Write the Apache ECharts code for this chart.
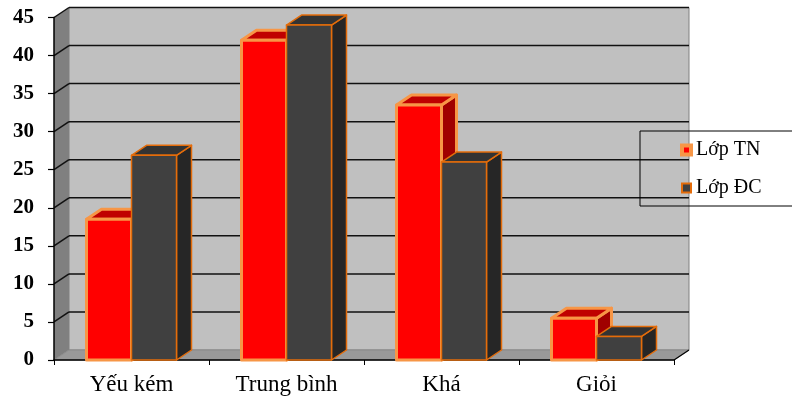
<!DOCTYPE html>
<html><head><meta charset="utf-8">
<script src="https://cdn.jsdelivr.net/npm/echarts@6/dist/echarts.min.js"></script>
<style>html,body{margin:0;padding:0;background:#fff}#c{width:792px;height:398px}</style>
</head><body><div id="c"></div>
<script>
// ---- data ----
const categories = ['Yếu kém', 'Trung bình', 'Khá', 'Giỏi'];
const seriesNames = ['Lớp TN', 'Lớp ĐC'];
const lopTN = [18.5, 42.0, 33.5, 5.5];
const lopDC = [26.9, 44.0, 26.0, 3.1];
const yTicks = [0, 5, 10, 15, 20, 25, 30, 35, 40, 45];

// ---- style constants ----
const DX = 15, DY = -10;          // 3D depth offset
const BAR_RATIO = 45 / 155;       // bar width relative to category band
const FONT = 'Liberation Serif, Times New Roman, serif';

const chart = echarts.init(document.getElementById('c'), null, {renderer: 'canvas'});

function wallRender(params, api) {
  const cs = params.coordSys;
  const gx = cs.x, gy = cs.y, gw = cs.width, gh = cs.height;
  const bottom = gy + gh;
  const ch = [];
  ch.push({type: 'rect', shape: {x: gx + DX, y: gy + DY, width: gw, height: gh},
    style: {fill: '#C0C0C0', stroke: '#808080', lineWidth: 1}});
  ch.push({type: 'polygon', shape: {points: [[gx, gy], [gx + DX, gy + DY], [gx + DX, bottom + DY], [gx, bottom]]},
    style: {fill: '#808080'}});
  ch.push({type: 'polygon', shape: {points: [[gx, bottom], [gx + DX, bottom + DY], [gx + gw + DX, bottom + DY], [gx + gw, bottom]]},
    style: {fill: '#999999', stroke: '#8a8a8a', lineWidth: 1}});
  ch.push({type: 'line', shape: {x1: gx + gw, y1: bottom, x2: gx + gw + DX, y2: bottom + DY},
    style: {stroke: '#000', lineWidth: 1.2}});
  yTicks.forEach(function (v) {
    if (v === 0) return;
    const y = api.coord([0, v])[1];
    ch.push({type: 'line', shape: {x1: gx, y1: y, x2: gx + DX, y2: y + DY},
      style: {stroke: '#111', lineWidth: 1.5}});
    ch.push({type: 'line', shape: {x1: gx + DX, y1: y + DY, x2: gx + gw + DX, y2: y + DY},
      style: {stroke: '#111', lineWidth: 1.5}});
  });
  return {type: 'group', children: ch};
}

function makeBarSeries(name, values, side, st) {
  return {
    type: 'custom', name: name, z: 2, clip: false,
    itemStyle: {color: st.front},
    data: values.map(function (v, i) { return [i, v]; }),
    encode: {x: 0, y: 1},
    renderItem: function (params, api) {
      const i = api.value(0), v = api.value(1);
      const top = api.coord([i, v]);
      const base = api.coord([i, 0]);
      const band = api.size([1, 0])[0];
      const bw = band * BAR_RATIO;
      const x0 = side < 0 ? top[0] - bw : top[0];
      const x1 = x0 + bw;
      const yt = top[1], yb = base[1];
      const stroke = {stroke: st.stroke, lineWidth: st.lw, lineJoin: 'round'};
      return {type: 'group', children: [
        {type: 'polygon', shape: {points: [[x1, yt], [x1 + DX, yt + DY], [x1 + DX, yb + DY], [x1, yb]]},
          style: Object.assign({fill: st.side}, stroke)},
        {type: 'polygon', shape: {points: [[x0, yt], [x0 + DX, yt + DY], [x1 + DX, yt + DY], [x1, yt]]},
          style: Object.assign({fill: st.top}, stroke)},
        {type: 'rect', shape: {x: x0, y: yt, width: bw, height: yb - yt},
          style: Object.assign({fill: st.front}, stroke)}
      ]};
    }
  };
}

const option = {
  backgroundColor: '#ffffff',
  animation: false,
  grid: {left: 54, right: 118, top: 17.5, bottom: 38, containLabel: false},
  xAxis: {
    type: 'category', data: categories, z: 1,
    axisLine: {show: true, lineStyle: {color: '#000', width: 1.5}},
    axisTick: {show: true, length: 5, lineStyle: {color: '#000', width: 1}},
    axisLabel: {color: '#000', fontFamily: FONT, fontSize: 23, margin: 13}
  },
  yAxis: {
    type: 'value', min: 0, max: 45, interval: 5, z: 1,
    axisLine: {show: true, lineStyle: {color: '#000', width: 1.5}},
    axisTick: {show: true, length: 6, lineStyle: {color: '#000', width: 1.2}},
    axisLabel: {color: '#000', fontFamily: FONT, fontWeight: 'bold', fontSize: 21, margin: 20},
    splitLine: {show: false}
  },
  legend: {
    orient: 'vertical', left: 640, top: 131,
    padding: [9, 70, 8, 40], itemGap: 18, itemWidth: 9, itemHeight: 9, icon: 'rect',
    borderColor: '#000', borderWidth: 1,
    textStyle: {fontFamily: FONT, fontSize: 20, color: '#000', lineHeight: 20},
    data: [
      {name: seriesNames[0], itemStyle: {color: '#FF0000', borderColor: '#F79646', borderWidth: 4}},
      {name: seriesNames[1], itemStyle: {color: '#404040', borderColor: '#E46C0A', borderWidth: 2}}
    ]
  },
  series: [
    {type: 'custom', name: 'walls', z: 0, silent: true, clip: false,
      data: [[0, 0]], encode: {x: 0, y: 1}, renderItem: wallRender},
    makeBarSeries(seriesNames[0], lopTN, -1, {front: '#FF0000', top: '#C00000', side: '#A00000', stroke: '#F79646', lw: 3}),
    makeBarSeries(seriesNames[1], lopDC, 1, {front: '#404040', top: '#333333', side: '#262626', stroke: '#E46C0A', lw: 1.5})
  ]
};
chart.setOption(option);
</script></body></html>
